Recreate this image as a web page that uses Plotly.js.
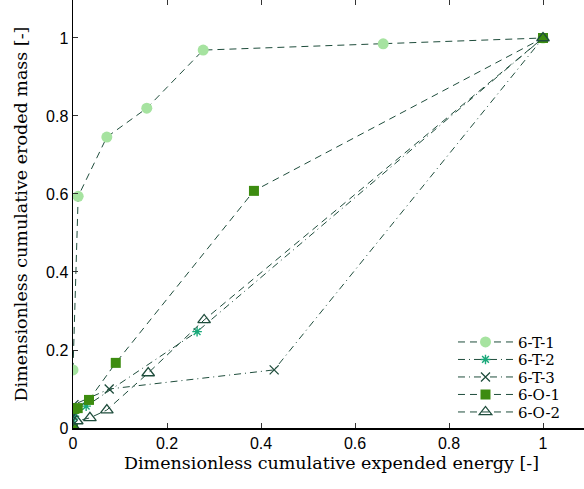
<!DOCTYPE html>
<html><head><meta charset="utf-8">
<script src="https://cdn.plot.ly/plotly-3.0.1.min.js"></script>
<style>html,body{margin:0;padding:0;overflow:hidden;background:#fff}</style>
</head><body><div id="c"></div>
<script>
const names = ["6-T-1","6-T-2","6-T-3","6-O-1","6-O-2"];
const t1x = [0, 0.011, 0.072, 0.157, 0.277, 0.66, 1];
const t1y = [0.149, 0.594, 0.746, 0.82, 0.969, 0.985, 1];
const t2x = [0, 0.003, 0.028, 0.264, 1];
const t2y = [0.01, 0.03, 0.056, 0.247, 1];
const t3x = [0, 0.002, 0.077, 0.428, 1];
const t3y = [0.03, 0.06, 0.1, 0.149, 1];
const o1x = [0, 0.003, 0.01, 0.034, 0.091, 0.385, 1];
const o1y = [0, 0.049, 0.051, 0.072, 0.167, 0.608, 1];
const o2x = [0, 0.008, 0.036, 0.072, 0.16, 0.279, 1];
const o2y = [0.005, 0.018, 0.026, 0.046, 0.141, 0.277, 1];

const serif = "DejaVu Serif";
const sans = "Liberation Sans, Arial";
const lineCol = "#1f4d3c";
const dashed = "7px,5px";
const dashdot = "7px,4px,1px,4px";
const traces = [
  {x:t1x,y:t1y,name:names[0],mode:"lines+markers",line:{color:lineCol,width:1,dash:dashed},
   marker:{symbol:"circle",size:11,color:"#a6e3a0"}},
  {x:t2x,y:t2y,name:names[1],mode:"lines+markers",line:{color:lineCol,width:1,dash:dashdot},
   marker:{symbol:"asterisk-open",size:8,color:"#1aa97a",line:{color:"#1aa97a",width:1.4}}},
  {x:t3x,y:t3y,name:names[2],mode:"lines+markers",line:{color:lineCol,width:1,dash:dashdot},
   marker:{symbol:"x-thin-open",size:9,color:lineCol,line:{color:lineCol,width:1.3}}},
  {x:o1x,y:o1y,name:names[3],mode:"lines+markers",line:{color:lineCol,width:1,dash:dashed},
   marker:{symbol:"square",size:10,color:"#3d8c10"}},
  {x:o2x,y:o2y,name:names[4],mode:"lines+markers",line:{color:lineCol,width:1,dash:dashed},
   marker:{symbol:"triangle-up-open",size:11,color:lineCol,line:{color:lineCol,width:1.3}}}
];
const ticks = [0,0.2,0.4,0.6,0.8,1];
const tickText = ["0","0.2","0.4","0.6","0.8","1"];
const axisCommon = {showgrid:false,zeroline:false,showline:true,linecolor:"#000",linewidth:1.5,
  ticks:"inside",ticklen:5,tickcolor:"#333",mirror:"ticks",tickvals:ticks,ticktext:tickText,
  tickfont:{family:sans,size:16,color:"#000"}};
const layout = {
  width:600,height:489,margin:{l:73,r:10,t:0,b:61},
  paper_bgcolor:"#fff",plot_bgcolor:"#fff",
  font:{family:serif},
  xaxis:Object.assign({},axisCommon,{range:[0,1.1],
    title:{text:"Dimensionless cumulative expended energy [-]",standoff:6,
      font:{family:serif,size:17.5,color:"#000"}}}),
  yaxis:Object.assign({},axisCommon,{range:[0,1.0974],
    title:{text:"Dimensionless cumulative eroded mass [-]",standoff:14,
      font:{family:serif,size:17.5,color:"#000"}}}),
  legend:{x:0.735,y:0.239,xanchor:"left",yanchor:"top",bgcolor:"rgba(0,0,0,0)",
    font:{family:serif,size:15,color:"#000"},
    tracegroupgap:0,itemwidth:55},
  showlegend:true
};
Plotly.newPlot("c",traces,layout,{displayModeBar:false,staticPlot:true}).then(function(gd){
  const items = gd.querySelectorAll(".legend .traces");
  let y0 = null;
  items.forEach(function(el,i){
    const tr = el.getAttribute("transform") || "";
    const m = tr.match(/translate\(\s*([-\d.]+)[ ,]+([-\d.]+)/);
    const x = m ? parseFloat(m[1]) : 0;
    const y = m ? parseFloat(m[2]) : 0;
    if (y0 === null) y0 = y;
    el.setAttribute("transform","translate("+x+","+(y0+i*17.5)+")");
  });
});
</script></body></html>
